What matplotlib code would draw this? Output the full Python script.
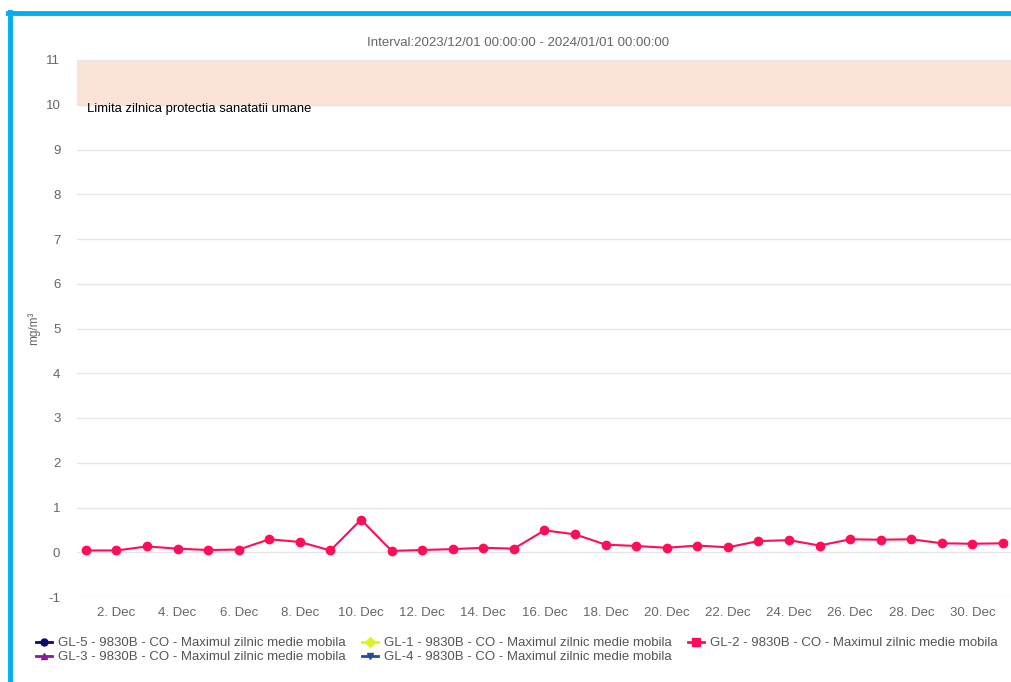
import matplotlib
matplotlib.use("Agg")
import matplotlib.pyplot as plt
from matplotlib.lines import Line2D

plt.rcParams['font.family'] = ['Liberation Sans', 'DejaVu Sans']
plt.rcParams['axes.unicode_minus'] = False

# ---- data ----
days = list(range(1, 32))
gl2_values = [0.04, 0.04, 0.13, 0.08, 0.05, 0.06, 0.29, 0.23, 0.04, 0.73,
              0.03, 0.05, 0.07, 0.10, 0.08, 0.49, 0.40, 0.17, 0.14, 0.10,
              0.15, 0.11, 0.25, 0.27, 0.15, 0.29, 0.28, 0.29, 0.20, 0.19, 0.20]
tick_days = list(range(2, 32, 2))
tick_labels = [f"{d}. Dec" for d in tick_days]
y_ticks = list(range(-1, 12))
band_low, band_high = 10, 11
band_label = "Limita zilnica protectia sanatatii umane"
title = "Interval:2023/12/01 00:00:00 - 2024/01/01 00:00:00"
ylabel = "mg/m\u00b3"
series_names = [
    "GL-5 - 9830B - CO - Maximul zilnic medie mobila",
    "GL-1 - 9830B - CO - Maximul zilnic medie mobila",
    "GL-2 - 9830B - CO - Maximul zilnic medie mobila",
    "GL-3 - 9830B - CO - Maximul zilnic medie mobila",
    "GL-4 - 9830B - CO - Maximul zilnic medie mobila",
]
series_colors = ["#0b0b6e", "#ddf51c", "#ff0d57", "#8b1a9b", "#1f4f9e"]
series_markers = ["o", "D", "s", "^", "v"]

W, H = 1011, 682
fig = plt.figure(figsize=(W / 100, H / 100), dpi=100)
fig.patch.set_facecolor("white")

ax = fig.add_axes([77 / W, 1 - 597 / H, (W - 77) / W + 0.01, (597 - 60) / H])
ax.set_xlim(1 - 0.29, 31.26 + 0.33)
ax.set_ylim(-1, 11)

# band
ax.axhspan(band_low, band_high, color="#fce3d8", zorder=0, lw=0)
ax.text(1.03, band_low - 0.1, band_label, fontsize=9.4, color="black",
        ha="left", va="center", zorder=3)

# grid
ax.set_yticks(y_ticks)
ax.yaxis.grid(True, color="#e6e6e6", lw=1)
ax.set_axisbelow(True)
ax.set_xticks(tick_days)
ax.set_xticklabels(tick_labels)
ax.tick_params(axis="both", length=0, colors="#666666", labelsize=9.5)
ax.tick_params(axis="x", pad=7)
ax.tick_params(axis="y", pad=12)
for s in ax.spines.values():
    s.set_visible(False)
ax.set_ylabel(ylabel, color="#666666", fontsize=8.5)
ax.yaxis.set_label_coords(-36 / (W - 77), 0.5)

# series
handles = []
for name, c, m in zip(series_names, series_colors, series_markers):
    if name.startswith("GL-2"):
        ax.plot(days, gl2_values, color=c, lw=1.5, marker="o",
                markersize=6, zorder=4)
        h = Line2D([], [], color=c, lw=2, marker=m, markersize=6)
    else:
        h = Line2D([], [], color=c, lw=2, marker=m, markersize=5)
    handles.append(h)

fig.text(518 / W, 1 - 43 / H, title, ha="center", va="center",
         fontsize=9.5, color="#666666")

order = [0, 3, 1, 4, 2]
fig.legend([handles[i] for i in order], [series_names[i] for i in order],
           loc="upper left", bbox_to_anchor=(36 / W, 1 - 637 / H), ncol=3,
           frameon=False, fontsize=9.5, labelcolor="#555555",
           handlelength=1.2, handletextpad=0.5, columnspacing=1.2,
           labelspacing=0.15, borderaxespad=0, borderpad=0)

# blue frame
blue = "#00aeef"
fig.add_artist(Line2D([8 / W, 1.0], [1 - 13 / H, 1 - 13 / H], color=blue,
                      lw=3.5, transform=fig.transFigure))
fig.add_artist(Line2D([10 / W, 10 / W], [0, 1 - 12 / H], color=blue,
                      lw=3.5, transform=fig.transFigure))

fig.savefig("out.png", dpi=100)
